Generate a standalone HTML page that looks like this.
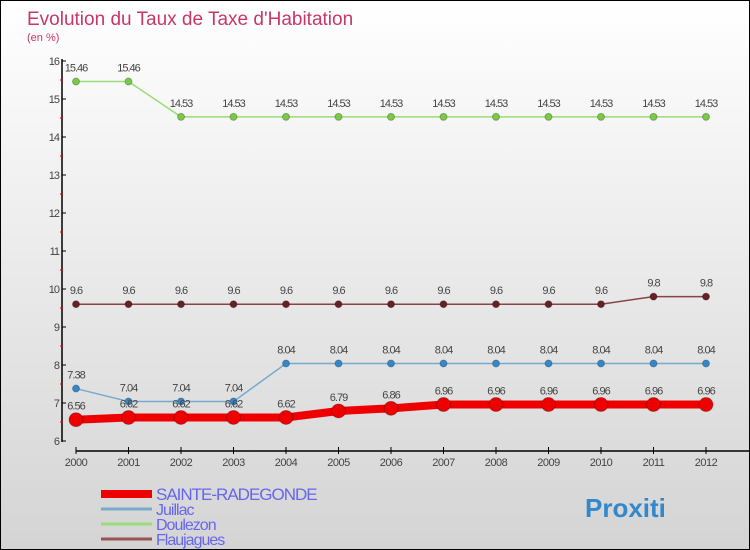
<!DOCTYPE html>
<html><head><meta charset="utf-8"><style>
body{margin:0}
#c{width:750px;height:550px;position:relative;box-sizing:border-box;border:1px solid #000;background:linear-gradient(#ffffff,#d4d4d4);font-family:"Liberation Sans","DejaVu Sans",sans-serif;overflow:hidden}
</style></head><body>
<div id="c">
<svg id="s" width="750" height="550" style="position:absolute;left:0;top:0"></svg>
</div>
<script>
const years=[2000,2001,2002,2003,2004,2005,2006,2007,2008,2009,2010,2011,2012];
const sainte=[6.56,6.62,6.62,6.62,6.62,6.79,6.86,6.96,6.96,6.96,6.96,6.96,6.96];
const juillac=[7.38,7.04,7.04,7.04,8.04,8.04,8.04,8.04,8.04,8.04,8.04,8.04,8.04];
const doulezon=[15.46,15.46,14.53,14.53,14.53,14.53,14.53,14.53,14.53,14.53,14.53,14.53,14.53];
const flaujagues=[9.6,9.6,9.6,9.6,9.6,9.6,9.6,9.6,9.6,9.6,9.6,9.8,9.8];
const yTicks=[6,7,8,9,10,11,12,13,14,15,16];
const seriesNames=["SAINTE-RADEGONDE","Juillac","Doulezon","Flaujagues"];
const NS="http://www.w3.org/2000/svg",s=document.getElementById('s');
const x=i=>75+i*52.5, y=v=>440-(v-6)*38;
function el(t,a,p){const e=document.createElementNS(NS,t);for(const k in a)e.setAttribute(k,a[k]);(p||s).appendChild(e);return e;}
function tx(str,a){const e=el('text',a);e.textContent=str;return e;}
let t=tx("Evolution du Taux de Taxe d'Habitation",{x:26,y:24,'font-size':19,fill:'#c8366a'});

t=tx("(en %)",{x:26,y:40,'font-size':11,fill:'#c8366a'});

let a=el('line',{x1:61,y1:58,x2:61,y2:441,stroke:'#000','stroke-width':1.5});

a=el('line',{x1:75,y1:450,x2:750,y2:450,stroke:'#000','stroke-width':1.5});

yTicks.forEach(v=>{el('line',{x1:61,y1:y(v),x2:65,y2:y(v),stroke:'#000'});
 if(v<16)el('line',{x1:59,y1:y(v+0.5),x2:62,y2:y(v+0.5),stroke:'#e00'});
 const l=tx(v,{x:58,y:y(v)+4,'font-size':11,fill:'#444','text-anchor':'end','letter-spacing':'-1'});
 });
years.forEach((yr,i)=>{el('line',{x1:x(i),y1:446,x2:x(i),y2:453,stroke:'#000'});
 const l=tx(yr,{x:x(i),y:465,'font-size':11,fill:'#444','text-anchor':'middle','letter-spacing':'-0.5'});
 });
function series(data,col,w,r,name,fill){
 const g=el('g',{});
 el('polyline',{points:data.map((v,i)=>x(i)+','+y(v)).join(' '),fill:'none',stroke:col,'stroke-width':w},g);
 data.forEach((v,i)=>{const c=el('circle',{cx:x(i),cy:y(v),r:r,fill:fill,stroke:'rgba(0,0,0,0.25)'},g);
  
  const l=tx(v,{x:x(i),y:y(v)-10,'font-size':11,fill:'#444','text-anchor':'middle','letter-spacing':'-1'});
  });
}
series(doulezon,'#99dd77',1.5,3.5,'series-doulezon','#77cc44');
series(flaujagues,'#884444',1.5,3.5,'series-flaujagues','#662222');
series(juillac,'#77aacc',1.5,3.5,'series-juillac','#3388cc');
series(sainte,'#ee0000',8,7,'series-sainte-radegonde','#ee0000');
const lc=['#ee0000','#77aacc','#99dd77','#995555'],lw=[8,3,3,3];
seriesNames.forEach((n,i)=>{const yy=493+i*15;
 const g=el('g',{});
 el('line',{x1:100,y1:yy,x2:151,y2:yy,stroke:lc[i],'stroke-width':lw[i]},g);
 const l=el('text',{x:155,y:yy+6,'font-size':i==0?17:16,fill:'#6666ee','letter-spacing':'-1'},g);l.textContent=n;});
const p=tx("Proxiti",{x:584,y:516,'font-size':26,'font-weight':'bold',fill:'#3388cc'});

</script>
</body></html>
